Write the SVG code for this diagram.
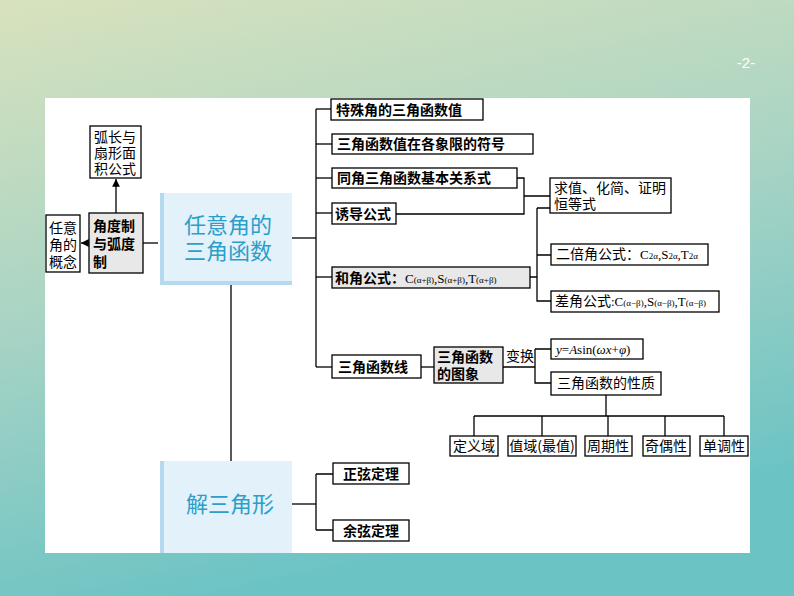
<svg xmlns="http://www.w3.org/2000/svg" width="794" height="596" viewBox="0 0 794 596">
<defs>
<linearGradient id="bg" x1="0" y1="0" x2="0.3" y2="1"><stop offset="0" stop-color="#d8e2bd"/><stop offset="0.5" stop-color="#a9d4c4"/><stop offset="1" stop-color="#6cc3c4"/></linearGradient>
<marker id="ar" viewBox="0 0 6 6" refX="6" refY="3" markerWidth="6" markerHeight="6" orient="auto"><path d="M0,0L6,3L0,6z" fill="#000"/></marker>
<style>
.b{fill:#fff;stroke:#000;stroke-width:1.3}
.g{fill:#e8e8e8;stroke:#000;stroke-width:1.3}
.t{font-family:"Noto Sans CJK SC","Liberation Sans",sans-serif;font-size:14px;fill:#000}
.bo{font-weight:bold}
.s{font-family:"Liberation Serif","Noto Sans CJK SC",serif;font-size:13px;font-weight:normal}
.sub{font-size:9px}
.m{font-family:"Noto Sans CJK SC",serif;font-size:22px;fill:#2b9fc9}
line,path.c{stroke:#000;stroke-width:1.3;fill:none}
</style>
</defs>
<rect width="794" height="596" fill="url(#bg)"/>
<text x="746" y="68" font-family="Liberation Sans,sans-serif" font-size="15" fill="#fff" text-anchor="middle">-2-</text>
<rect x="45" y="98" width="705" height="455" fill="#fff"/>
<g id="connectors">
<line x1="116" y1="213" x2="116" y2="179" marker-end="url(#ar)"/>
<line x1="89" y1="243" x2="81" y2="243" marker-end="url(#ar)"/>
<line x1="143" y1="243" x2="158" y2="243"/>
<line x1="292" y1="238" x2="316" y2="238"/>
<line x1="316" y1="109" x2="316" y2="367"/>
<line x1="316" y1="109" x2="331" y2="109"/>
<line x1="316" y1="144" x2="332" y2="144"/>
<line x1="316" y1="178" x2="332" y2="178"/>
<line x1="316" y1="213" x2="332" y2="213"/>
<line x1="316" y1="277" x2="332" y2="277"/>
<line x1="316" y1="367" x2="332" y2="367"/>
<path class="c" d="M517,178H524V214H396M524,196H550"/>
<path class="c" d="M530,277H537M537,208H550M537,208V301H551M537,255H551"/>
<line x1="421" y1="367" x2="434" y2="367"/>
<path class="c" d="M503,367H535M535,349H551M535,349V383H551"/>
<path class="c" d="M606,395V416M474,416H724M474,416V436M542,416V436M608,416V436M665,416V436M724,416V436"/>
<line x1="231" y1="285" x2="231" y2="461"/>
<line x1="292" y1="504" x2="316" y2="504"/>
<path class="c" d="M316,474V530M316,474H333M316,530H333"/>
</g>
<g id="n-concept"><rect class="b" x="46" y="215" width="34" height="57"/><text class="t" x="63" y="233" text-anchor="middle" font-size="12">任意</text><text class="t" x="63" y="250" text-anchor="middle" font-size="12">角的</text><text class="t" x="63" y="267" text-anchor="middle" font-size="12">概念</text></g>
<g id="n-rad"><rect class="g" x="89" y="213" width="54" height="60"/><text class="t bo" x="93" y="231">角度制</text><text class="t bo" x="93" y="249">与弧度</text><text class="t bo" x="93" y="267">制</text></g>
<g id="n-arc"><rect class="b" x="90" y="126" width="51" height="52"/><text class="t" x="115" y="142" text-anchor="middle" font-size="12">弧长与</text><text class="t" x="115" y="158" text-anchor="middle" font-size="12">扇形面</text><text class="t" x="115" y="174" text-anchor="middle" font-size="12">积公式</text></g>
<g id="n-main"><rect x="160" y="193" width="132" height="92" fill="#b5daf0"/><rect x="164" y="193" width="128" height="88" fill="#e3f1fa"/><text class="m" x="228" y="233" text-anchor="middle">任意角的</text><text class="m" x="228" y="259" text-anchor="middle">三角函数</text></g>
<g id="n-solve"><rect x="160" y="461" width="132" height="92" fill="#b5daf0"/><rect x="164" y="461" width="128" height="92" fill="#e3f1fa"/><text class="m" x="230" y="512" text-anchor="middle">解三角形</text></g>
<g id="n1"><rect class="b" x="331" y="99" width="152" height="21"/><text class="t bo" x="336" y="115">特殊角的三角函数值</text></g>
<g id="n2"><rect class="b" x="332" y="134" width="201" height="20"/><text class="t bo" x="337" y="149">三角函数值在各象限的符号</text></g>
<g id="n3"><rect class="b" x="332" y="168" width="185" height="20"/><text class="t bo" x="337" y="183">同角三角函数基本关系式</text></g>
<g id="n4"><rect class="b" x="332" y="203" width="64" height="21"/><text class="t bo" x="335" y="219">诱导公式</text></g>
<g id="n5"><rect class="g" x="332" y="267" width="198" height="21"/><text class="t bo" x="335" y="283">和角公式：<tspan class="s">C<tspan class="sub">(α+β)</tspan>,S<tspan class="sub">(α+β)</tspan>,T<tspan class="sub">(α+β)</tspan></tspan></text></g>
<g id="n6"><rect class="b" x="332" y="355" width="89" height="23"/><text class="t bo" x="338" y="372">三角函数线</text></g>
<g id="n7"><rect class="b" x="550" y="178" width="121" height="35"/><text class="t" x="554" y="193" font-size="13">求值、化简、证明</text><text class="t" x="554" y="209" font-size="13">恒等式</text></g>
<g id="n8"><rect class="b" x="551" y="244" width="157" height="21"/><text class="t" x="556" y="259" font-size="13">二倍角公式：<tspan class="s">C<tspan class="sub">2α</tspan>,S<tspan class="sub">2α</tspan>,T<tspan class="sub">2α</tspan></tspan></text></g>
<g id="n9"><rect class="b" x="551" y="291" width="168" height="21"/><text class="t" x="555" y="306" font-size="13">差角公式<tspan class="s">:C<tspan class="sub">(α−β)</tspan>,S<tspan class="sub">(α−β)</tspan>,T<tspan class="sub">(α−β)</tspan></tspan></text></g>
<g id="n10"><rect class="g" x="434" y="347" width="69" height="36"/><text class="t bo" x="437" y="362">三角函数</text><text class="t bo" x="437" y="379">的图象</text></g>
<text class="t" x="506" y="361" font-size="12">变换</text>
<g id="n11"><rect class="b" x="551" y="339" width="92" height="20"/><text class="s" x="556" y="354" font-style="italic">y<tspan font-style="normal">=</tspan>A<tspan font-style="normal">sin(</tspan>ωx<tspan font-style="normal">+</tspan>φ<tspan font-style="normal">)</tspan></text></g>
<g id="n12"><rect class="b" x="551" y="372" width="110" height="23"/><text class="t" x="606" y="388" text-anchor="middle" font-size="13">三角函数的性质</text></g>
<g id="n13"><rect class="b" x="450" y="436" width="48" height="20"/><text class="t" x="474" y="451" text-anchor="middle" font-size="13">定义域</text></g>
<g id="n14"><rect class="b" x="508" y="436" width="68" height="20"/><text class="t" x="542" y="451" text-anchor="middle" font-size="13">值域(最值)</text></g>
<g id="n15"><rect class="b" x="585" y="436" width="47" height="20"/><text class="t" x="608" y="451" text-anchor="middle" font-size="13">周期性</text></g>
<g id="n16"><rect class="b" x="643" y="436" width="47" height="20"/><text class="t" x="666" y="451" text-anchor="middle" font-size="13">奇偶性</text></g>
<g id="n17"><rect class="b" x="700" y="436" width="48" height="20"/><text class="t" x="724" y="451" text-anchor="middle" font-size="13">单调性</text></g>
<g id="n18"><rect class="b" x="333" y="463" width="76" height="21"/><text class="t bo" x="371" y="479" text-anchor="middle">正弦定理</text></g>
<g id="n19"><rect class="b" x="333" y="520" width="76" height="21"/><text class="t bo" x="371" y="536" text-anchor="middle">余弦定理</text></g>
</svg>
